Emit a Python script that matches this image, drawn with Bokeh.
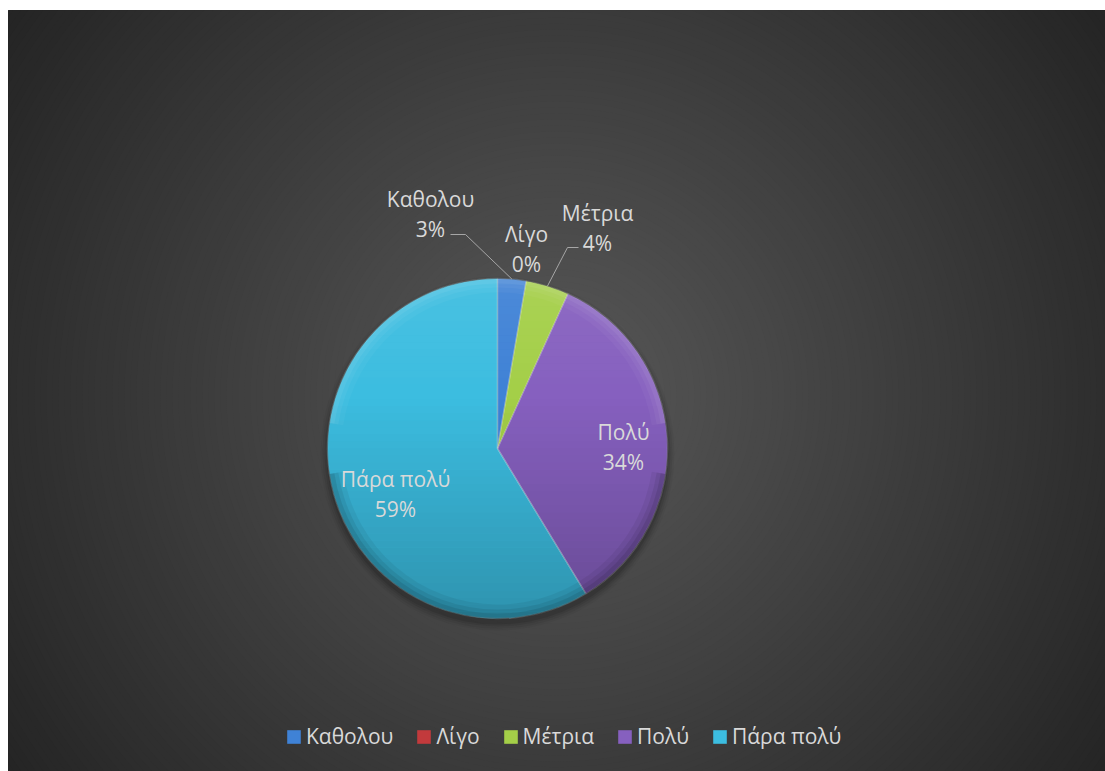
import math
import numpy as np
from bokeh.plotting import figure
from bokeh.models import ColumnDataSource, Range1d, Legend, LegendItem
from bokeh.embed import file_html
from bokeh.resources import INLINE
from bokeh.core.properties import value

# ---------------- data ----------------
categories = ["Καθολου", "Λίγο", "Μέτρια", "Πολύ", "Πάρα πολύ"]
shares = [2.7, 0.0, 4.1, 34.5, 58.7]
pct_labels = ["3%", "0%", "4%", "34%", "59%"]
colors = ["#3f82d6", "#c23a3c", "#a4cf48", "#8660bf", "#3cbde0"]

# ---------------- layout / style ----------------
W, H = 1097, 761           # frame size
CX, CY = 489, 438          # pie centre, frame px from top-left
R = 170
FONT = "Open Sans"
TXT = "#d9d9d9"
FS = "21px"
# label block centre, offset from pie centre (px, y downwards)
LABEL_OFF = [(-67, -235), (29, -200), (100, -221), (126, -2), (-102, 45)]
# leader lines: (elbow, end) offsets from the label block centre; None = no leader
LEADER = [((35, 21), (20, 21)), None, ((-30, 20), (-19, 20)), None, None]


def Y(y):
    return H - y


p = figure(width=W + 8, height=H + 10, x_range=Range1d(0, W), y_range=Range1d(0, H),
           output_backend="svg", toolbar_location=None,
           x_axis_type=None, y_axis_type=None,
           min_border_left=8, min_border_right=0, min_border_bottom=0, min_border_top=10,
           border_fill_color="white", background_fill_color="#262626",
           outline_line_color=None)
p.grid.visible = False

# radial background gradient
gx, gy = 548, 385
radii = np.arange(720, 0, -6)
bg_cols = []
for r in radii:
    t = min(max((r - 3) / 660.0, 0.0), 1.0)
    v = int(round(0x58 - (0x58 - 0x25) * t))
    bg_cols.append("#%02x%02x%02x" % (v, v, v))
p.circle(x=[gx] * len(radii), y=[Y(gy)] * len(radii), radius=radii, radius_units="screen",
         fill_color=bg_cols, line_color=None)

# soft shadow under pie
for dr, a in [(7, 0.04), (5, 0.06), (3, 0.08), (1, 0.10)]:
    p.circle(x=[CX], y=[Y(CY + 5)], radius=R + dr, radius_units="screen",
             fill_color="black", fill_alpha=a, line_color=None)

# wedges
total = float(sum(shares))
cum = np.concatenate([[0.0], np.cumsum(shares)]) / total
starts = math.pi / 2 - 2 * math.pi * cum[:-1]
ends = math.pi / 2 - 2 * math.pi * cum[1:]
keep = [i for i, s in enumerate(shares) if s > 0]
src = ColumnDataSource(dict(
    start=[starts[i] for i in keep], end=[ends[i] for i in keep],
    color=[colors[i] for i in keep]))
p.wedge(x=CX, y=Y(CY), radius=R, radius_units="screen", start_angle="start", end_angle="end",
        direction="clock", fill_color="color", line_color=None, source=src)

# vertical shading of the pie disc (lighter top, darker bottom)
nb = 48
band_xs, band_ys, band_cols, band_alpha = [], [], [], []
edges = np.linspace(-R, R, nb + 1)
for k in range(nb):
    y0, y1 = edges[k], edges[k + 1]
    yy = np.linspace(y0, y1, 6)
    xr = np.sqrt(np.maximum(R * R - yy ** 2, 0))
    band_xs.append(list(CX + xr) + list(CX - xr[::-1]))
    band_ys.append([Y(CY + v) for v in yy] + [Y(CY + v) for v in yy[::-1]])
    t = (0.5 * (y0 + y1) + R) / (2 * R)     # 0 top .. 1 bottom
    if t < 0.35:
        band_cols.append("white")
        band_alpha.append(0.07 * (0.35 - t) / 0.35)
    else:
        band_cols.append("black")
        band_alpha.append(0.22 * (t - 0.35) / 0.65)
p.patches(xs=band_xs, ys=band_ys, fill_color=band_cols, fill_alpha=band_alpha, line_color=None)

# slice edge highlights
p.wedge(x=CX, y=Y(CY), radius=R, radius_units="screen", start_angle="start", end_angle="end",
        direction="clock", fill_color=None, line_color="white", line_alpha=0.18,
        line_width=1.5, source=src)

# bevel on rim: lighter on top, darker at the bottom
for inner, a in [(R - 14, 0.035), (R - 9, 0.045), (R - 5, 0.055)]:
    p.annular_wedge(x=CX, y=Y(CY), inner_radius=inner, outer_radius=R,
                    inner_radius_units="screen", outer_radius_units="screen",
                    start_angle=0.15, end_angle=math.pi - 0.15, direction="anticlock",
                    fill_color="white", fill_alpha=a, line_color=None)
    p.annular_wedge(x=CX, y=Y(CY), inner_radius=inner, outer_radius=R,
                    inner_radius_units="screen", outer_radius_units="screen",
                    start_angle=math.pi + 0.15, end_angle=2 * math.pi - 0.15, direction="anticlock",
                    fill_color="black", fill_alpha=a * 1.6, line_color=None)
p.circle(x=[CX], y=[Y(CY)], radius=R, radius_units="screen", fill_color=None,
         line_color="#202020", line_alpha=0.3, line_width=1)

# data labels
mids = (cum[:-1] + cum[1:]) / 2
lx = [CX + LABEL_OFF[i][0] for i in range(len(categories))]
ly = [CY + LABEL_OFF[i][1] for i in range(len(categories))]
p.text(x=lx, y=[Y(v - 15) for v in ly], text=categories, text_font=value(FONT),
       text_font_size=FS, text_color=TXT, text_align="center", text_baseline="middle")
p.text(x=lx, y=[Y(v + 15) for v in ly], text=pct_labels, text_font=value(FONT),
       text_font_size=FS, text_color=TXT, text_align="center", text_baseline="middle")

# leader lines
xs, ys = [], []
for i, ld in enumerate(LEADER):
    if ld is None:
        continue
    ang = 2 * math.pi * mids[i]
    ex, ey = CX + R * math.sin(ang), CY - R * math.cos(ang)
    (bx, by), (fx, fy) = ld
    xs.append([ex, lx[i] + bx, lx[i] + fx])
    ys.append([Y(ey), Y(ly[i] + by), Y(ly[i] + fy)])
p.multi_line(xs=xs, ys=ys, line_color="#a6a6a6", line_width=1)

# legend (zero-area swatch renderers, only used for the legend keys)
items = []
for cat, col in zip(categories, colors):
    r = p.quad(left=[0], right=[0], top=[0], bottom=[0], fill_color=col, line_color=None)
    items.append(LegendItem(label=cat, renderers=[r]))
legend = Legend(items=items, orientation="horizontal", location=(277, 21),
                label_text_font=FONT, label_text_font_size=FS, label_text_color=TXT,
                glyph_width=17, glyph_height=17, label_standoff=4, spacing=22,
                padding=0, margin=0, label_height=20,
                background_fill_alpha=0, border_line_alpha=0)
p.add_layout(legend, "center")

open("out.html", "w").write(file_html(p, INLINE))
